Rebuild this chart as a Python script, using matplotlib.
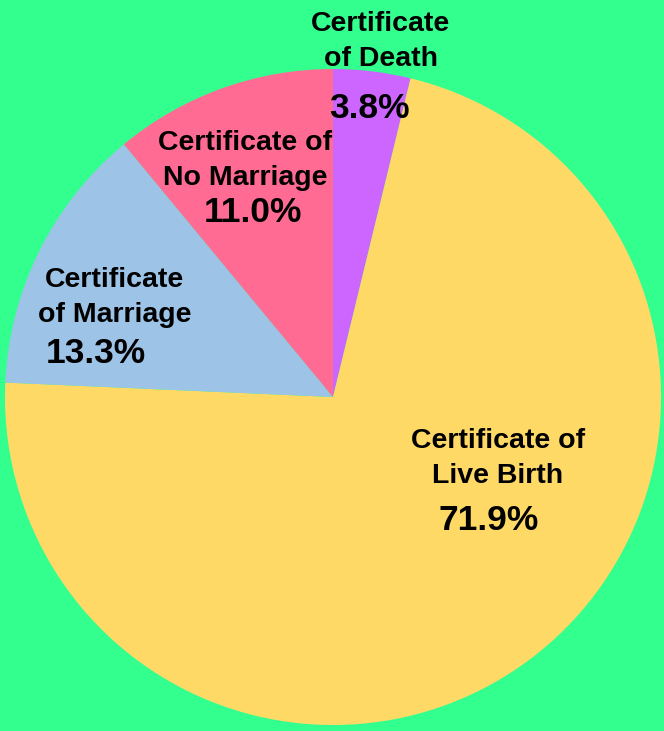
import numpy as np
import matplotlib.pyplot as plt

categories = ['Certificate\nof Death', 'Certificate of\nLive Birth',
              'Certificate\nof Marriage', 'Certificate of\nNo Marriage']
shares = [3.8, 71.9, 13.3, 11.0]
colors = ['#CC66FF', '#FFD966', '#9DC3E6', '#FF6B93']

# label / percentage positions in radius units
label_pos = [(0.146, 1.085), (0.502, -0.188), (-0.666, 0.304), (-0.267, 0.720)]
pct_pos = [(0.112, 0.881), (0.474, -0.377), (-0.723, 0.134), (-0.243, 0.562)]


def plot_certificates():
    fig = plt.figure(figsize=(6.64, 7.31), dpi=100)
    fig.patch.set_facecolor('#33FF8F')
    ax = fig.add_axes([5 / 664, 5 / 731, 656 / 664, 658 / 731])
    ax.set_facecolor('none')

    ax.pie(shares, colors=colors, startangle=90, counterclock=False,
           radius=1, wedgeprops=dict(linewidth=0))

    for name, (x, y) in zip(categories, label_pos):
        ax.text(x, y, name, ha='center', va='center', fontsize=20.5,
                fontweight='bold', family='Liberation Sans', linespacing=1.45)
    for s, (x, y) in zip(shares, pct_pos):
        ax.text(x, y, f'{s:.1f}%', ha='center', va='center', fontsize=25.5,
                fontweight='bold', family='Liberation Sans')

    ax.set_xlim(-1, 1)
    ax.set_ylim(-1, 1)
    ax.axis('off')
    fig.savefig('out.png', dpi=100, facecolor=fig.get_facecolor())


if __name__ == '__main__':
    plot_certificates()
